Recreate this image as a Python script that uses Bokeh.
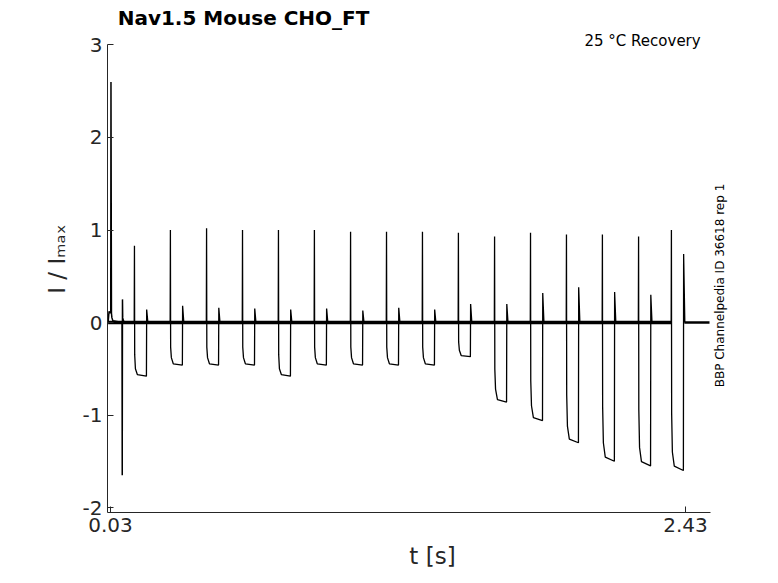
from bokeh.plotting import figure
from bokeh.models import FixedTicker, Label, Range1d, PrintfTickFormatter
from bokeh.embed import file_html
from bokeh.resources import INLINE
import math

# data
pulse_t = [0.130, 0.280, 0.431, 0.581, 0.731, 0.881, 1.032, 1.182, 1.332, 1.482, 1.633, 1.783, 1.933, 2.083, 2.234, 2.371]
pulse_peak = [0.83, 1.0, 1.02, 1.0, 1.0, 1.0, 0.98, 0.98, 0.98, 0.97, 0.93, 0.97, 0.95, 0.95, 0.93, 1.0]
trough_start = [-0.50, -0.38, -0.38, -0.38, -0.50, -0.38, -0.38, -0.38, -0.38, -0.30, -0.72, -0.90, -1.12, -1.30, -1.35, -1.40]
trough_end = [-0.58, -0.46, -0.46, -0.46, -0.58, -0.46, -0.46, -0.46, -0.46, -0.37, -0.86, -1.06, -1.30, -1.50, -1.55, -1.60]
end_spike = [0.14, 0.18, 0.16, 0.15, 0.14, 0.15, 0.13, 0.16, 0.14, 0.20, 0.20, 0.32, 0.38, 0.33, 0.30, 0.74]
pulse_width = 0.05
base_t = [0.02, 2.37]
tail_t = [2.425, 2.53]
first_t = [0.020, 0.024, 0.028, 0.031, 0.032, 0.034, 0.036, 0.040, 0.078, 0.079, 0.080, 0.081, 0.084, 0.09]
first_y = [0.0, 0.12, 0.10, 0.12, 2.60, 0.10, 0.05, 0.02, 0.0, -1.65, 0.25, 0.05, 0.02, 0.0]
x_ticks = [0.03, 2.43]
y_ticks = [-2, -1, 0, 1, 2, 3]

p = figure(width=770, height=575, output_backend="svg", toolbar_location=None,
           x_range=Range1d(0.0175, 2.7303), y_range=Range1d(-2.054, 3.427),
           min_border_left=107, min_border_top=5, min_border_right=13, min_border_bottom=63)
p.outline_line_color = None
p.xgrid.visible = False
p.ygrid.visible = False
p.background_fill_color = "white"

p.line(base_t, [0, 0], line_width=3.5, color="black")
p.line(tail_t, [0, 0], line_width=2.5, color="black")
p.line(first_t, first_y, line_width=1.5, color="black")

for t, pk, ts, te, es in zip(pulse_t, pulse_peak, trough_start, trough_end, end_spike):
    xs = [t - 0.001, t, t + 0.001, t + 0.004, t + 0.012, t + pulse_width, t + pulse_width + 0.001, t + pulse_width + 0.006]
    ys = [0, pk, ts * 0.7, ts, te * 0.97, te, es, 0]
    p.line(xs, ys, line_width=1.3, color="black")

for ax in (p.xaxis[0], p.yaxis[0]):
    ax.major_tick_in = 6
    ax.major_tick_out = 0
    ax.minor_tick_line_color = None
    ax.axis_line_color = "#262626"
    ax.major_tick_line_color = "#262626"
    ax.major_label_text_font = "DejaVu Sans"
    ax.major_label_text_font_size = "20px"
    ax.major_label_text_color = "#262626"
    ax.axis_label_text_font = "DejaVu Sans"
    ax.axis_label_text_font_size = "23px"
    ax.axis_label_text_font_style = "normal"
    ax.axis_label_text_color = "#262626"
p.xaxis.bounds = (0.0175, 2.535)
p.yaxis.bounds = (-2.054, 3.0)
p.xaxis.ticker = FixedTicker(ticks=x_ticks)
p.yaxis.ticker = FixedTicker(ticks=y_ticks)
p.xaxis.formatter = PrintfTickFormatter(format="%.2f")
p.yaxis.formatter = PrintfTickFormatter(format="%d")
p.xaxis.axis_label = "t [s]"
p.yaxis.axis_label = "I / Iₘₐₓ"
p.xaxis.axis_label_standoff = 8
p.yaxis.axis_label_standoff = 10

p.add_layout(Label(x=0.06, y=3.29, text="Nav1.5  Mouse  CHO_FT", text_font="DejaVu Sans",
                   text_font_style="bold", text_font_size="20px", text_baseline="middle",
                   text_color="black"))
p.add_layout(Label(x=2.513, y=3.04, text="25 °C  Recovery", text_font="DejaVu Sans",
                   text_font_size="15px", text_baseline="middle", text_align="right",
                   text_color="black"))
p.add_layout(Label(x=2.572, y=0.40, text="BBP Channelpedia ID 36618 rep 1", text_font="DejaVu Sans",
                   text_font_size="12px", text_baseline="middle", text_align="center",
                   angle=math.pi / 2, text_color="black"))

open("out.html", "w").write(file_html(p, INLINE))
